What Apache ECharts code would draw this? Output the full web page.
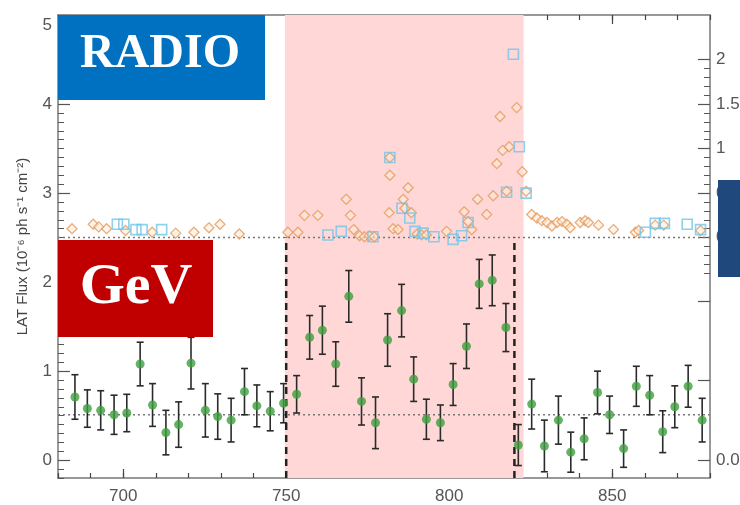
<!DOCTYPE html>
<html>
<head>
<meta charset="utf-8">
<script src="https://cdn.jsdelivr.net/npm/echarts@6/dist/echarts.min.js"></script>
<style>
html,body{margin:0;padding:0;background:#fff;}
#chart{width:740px;height:505px;}
</style>
</head>
<body>
<div id="chart"></div>
<script>
// ---------- data ----------
const xMin = 680, xMax = 880;
const xTickLabels = [700, 750, 800, 850];
const leftTickLabels = [0, 1, 2, 3, 4, 5];
const rightTickLabels = [0, 0.5, 1, 1.5, 2];
const rightLowLabelValue = -2.5;
const rightLowLabelText = '0.01';
const rightMajorTicks = [0, 0.5, 1, 1.5, 2, -0.72, -1.6, -2.5];
const rightMinorTicks = [-0.4, -0.3, -0.2, -0.1, 0.1, 0.2, 0.3, 0.4, 0.6, 0.7, 0.8, 0.9, 1.1, 1.2, 1.3, 1.4, 1.6, 1.7, 1.8, 1.9];

const flareStart = 749.6, flareEnd = 822.8;
const flareLines = [750, 820];
const gevBaseline = 0.51;
const radioBaseline = 0;

const gevDays = [685.2,689,693.1,697.2,701.1,705.2,709,713.1,717,720.8,725.2,729,733.1,737.2,741,745.1,749.2,753.2,757.2,761.1,765.2,769.2,773.1,777.4,781.1,785.4,789.1,793,797.3,801.2,805.3,809.2,813.2,817.4,821.2,825.3,829.2,833.5,837.3,841.4,845.5,849.2,853.5,857.4,861.5,865.5,869.2,873.3,877.6];
const gevFlux = [0.71,0.58,0.56,0.51,0.53,1.08,0.62,0.31,0.40,1.09,0.56,0.49,0.45,0.77,0.61,0.55,0.64,0.74,1.38,1.46,1.08,1.84,0.66,0.42,1.35,1.68,0.91,0.46,0.42,0.85,1.28,1.98,2.02,1.49,0.17,0.63,0.16,0.45,0.09,0.24,0.76,0.51,0.13,0.83,0.73,0.32,0.60,0.83,0.45];
const gevErr = [0.25,0.21,0.22,0.22,0.21,0.245,0.24,0.25,0.255,0.29,0.30,0.255,0.245,0.26,0.235,0.22,0.22,0.21,0.245,0.27,0.25,0.29,0.265,0.29,0.295,0.295,0.25,0.225,0.2,0.235,0.25,0.275,0.285,0.27,0.23,0.28,0.29,0.27,0.225,0.235,0.24,0.21,0.21,0.225,0.22,0.235,0.235,0.235,0.245];

const radioDiamondDays = [684.3,690.8,692.5,694.9,700.7,708.9,716.1,721.7,726.3,729.7,735.6,
  750.5,753.6,755.6,759.7,768.4,769.7,770.7,772.5,774,775.5,777,781.8,781.8,781.6,782.8,784.3,785.9,787.4,786.4,788.4,790.2,791.5,793,799.2,804.6,805.8,806.9,808.7,811.5,813.5,814.6,816.4,818.4,815.6,820.7,817.6,822.4,823.6,
  825.3,826.9,828.4,830,831.5,833.1,834.6,836.1,837.1,840.2,841.7,842.7,845.8,850.4,857.1,858.1,863.2,865.8,877.1];
const radioDiamondFlux = [0.10,0.15,0.12,0.10,0.08,0.06,0.05,0.06,0.11,0.15,0.04,
  0.06,0.06,0.25,0.25,0.43,0.25,0.09,0.02,0.01,0.02,0.01,0.70,0.90,0.28,0.10,0.09,0.43,0.56,0.33,0.28,0.04,0.03,0.03,0.07,0.29,0.18,0.09,0.43,0.26,0.47,0.83,0.98,1.02,1.36,1.46,0.52,0.74,0.52,
  0.26,0.22,0.19,0.17,0.13,0.17,0.18,0.15,0.11,0.17,0.19,0.17,0.14,0.09,0.06,0.08,0.14,0.14,0.08];

const radioSquareDays = [698.2,700.2,703.9,705.8,711.8,
  762.8,766.9,776.6,781.8,785.5,787.9,789.5,792,795.3,801.2,803.8,805.8,817.6,819.7,821.5,823.6,
  860.2,863.2,866,873,877.1];
const radioSquareFlux = [0.15,0.15,0.09,0.09,0.09,
  0.03,0.07,0.01,0.90,0.33,0.22,0.07,0.05,0.01,-0.02,0.02,0.17,0.51,2.06,1.02,0.50,
  0.06,0.16,0.16,0.15,0.09];

// ---------- chart ----------
const chart = echarts.init(document.getElementById('chart'), null, {renderer: 'canvas'});
const axisColor = '#777';
const labelColor = '#555';
const font = '"Liberation Sans", Arial, Helvetica, sans-serif';
const grid = {left: 58, top: 15, width: 652, height: 463, containLabel: false, outerBoundsMode: 'none'};

function xAx(position, showLine, showLabel, tickVals, tickLen, interval) {
  const ax = {
    type: 'value', position: position, min: xMin, max: xMax,
    axisLine: {show: showLine, onZero: false, lineStyle: {color: axisColor, width: 1.5}},
    splitLine: {show: false},
    axisTick: {show: true, inside: true, length: tickLen, lineStyle: {color: '#444', width: 1.2}},
    axisLabel: {show: showLabel, color: labelColor, fontSize: 17, fontFamily: font, margin: 10,
      customValues: xTickLabels, formatter: v => String(v)}
  };
  if (tickVals) ax.axisTick.customValues = tickVals;
  if (interval) ax.interval = interval;
  return ax;
}
const xAxes = [
  xAx('bottom', true, true, null, 5, 10),
  xAx('bottom', false, false, xTickLabels, 9, null),
  xAx('top', true, false, null, 5, 10),
  xAx('top', false, false, xTickLabels, 9, null)
];

const yAxes = [
  { // left, minor ticks + labels
    type: 'value', position: 'left', min: -0.2, max: 5, interval: 0.1,
    axisLine: {show: true, onZero: false, lineStyle: {color: axisColor, width: 1.5}},
    splitLine: {show: false},
    axisTick: {show: true, inside: true, length: 6, lineStyle: {color: '#555', width: 1}},
    axisLabel: {show: true, color: labelColor, fontSize: 17, fontFamily: font, margin: 6,
      customValues: leftTickLabels,
      formatter: v => (v === 5 ? '{top|5}' : String(v)),
      rich: {top: {fontSize: 17, color: labelColor, fontFamily: font, padding: [20, 0, 0, 0]}}},
    name: 'LAT Flux (10\u207B\u2076 ph s\u207B\u00B9 cm\u207B\u00B2)',
    nameLocation: 'middle', nameGap: 28,
    nameTextStyle: {color: '#444', fontSize: 15, fontFamily: font}
  },
  { // left major ticks
    type: 'value', position: 'left', min: -0.2, max: 5,
    axisLine: {show: false}, splitLine: {show: false},
    axisTick: {show: true, inside: true, length: 12, customValues: leftTickLabels, lineStyle: {color: '#555', width: 1.2}},
    axisLabel: {show: false}
  },
  { // right, radio scale: minor ticks + labels
    type: 'value', position: 'right', min: -2.7, max: 2.5,
    axisLine: {show: true, onZero: false, lineStyle: {color: axisColor, width: 1.5}},
    splitLine: {show: false},
    axisTick: {show: true, inside: true, length: 6, customValues: rightMinorTicks, lineStyle: {color: '#555', width: 1}},
    axisLabel: {show: true, color: labelColor, fontSize: 17, fontFamily: font, margin: 6,
      customValues: rightTickLabels.concat([rightLowLabelValue]),
      formatter: v => (Math.abs(v - rightLowLabelValue) < 1e-6 ? rightLowLabelText : String(v))}
  },
  { // right major ticks
    type: 'value', position: 'right', min: -2.7, max: 2.5,
    axisLine: {show: false}, splitLine: {show: false},
    axisTick: {show: true, inside: true, length: 12, customValues: rightMajorTicks, lineStyle: {color: '#555', width: 1.2}},
    axisLabel: {show: false}
  }
];

const series = [
  { // flare shading
    type: 'line', xAxisIndex: 0, yAxisIndex: 0, data: [], silent: true,
    markArea: {silent: true, itemStyle: {color: '#FFD7D7'}, data: [[{xAxis: flareStart}, {xAxis: flareEnd}]]},
    z: 1
  },
  { // radio baseline dotted
    type: 'line', xAxisIndex: 0, yAxisIndex: 2, symbol: 'none', silent: true,
    data: [[xMin, radioBaseline], [xMax, radioBaseline]],
    lineStyle: {color: '#777', width: 1.5, type: [2, 3]}, z: 2
  },
  { // gev baseline dotted
    type: 'line', xAxisIndex: 0, yAxisIndex: 0, symbol: 'none', silent: true,
    data: [[xMin, gevBaseline], [xMax, gevBaseline]],
    lineStyle: {color: '#777', width: 1.5, type: [2, 3]}, z: 2
  }
].concat(flareLines.map(d => ({
  type: 'line', xAxisIndex: 0, yAxisIndex: 0, symbol: 'none', silent: true,
  data: [[d, -0.2], [d, 2.5]],
  lineStyle: {color: '#222', width: 2.5, type: [7, 5]}, z: 3
}))).concat([
  { // radio diamonds
    type: 'scatter', xAxisIndex: 0, yAxisIndex: 2, symbol: 'diamond', symbolSize: [10, 10],
    data: radioDiamondDays.map((d, i) => [d, radioDiamondFlux[i]]),
    itemStyle: {color: 'rgba(255,236,215,0.7)', borderColor: '#E59A5C', borderWidth: 1.3}, z: 4
  },
  { // radio squares
    type: 'scatter', xAxisIndex: 0, yAxisIndex: 2, symbol: 'rect', symbolSize: [10, 10],
    data: radioSquareDays.map((d, i) => [d, radioSquareFlux[i]]),
    itemStyle: {color: 'rgba(0,0,0,0)', borderColor: '#72C6E8', borderWidth: 1.6}, z: 5
  },
  { // gev error bars
    type: 'custom', xAxisIndex: 0, yAxisIndex: 0, z: 6,
    data: gevDays.map((d, i) => [d, gevFlux[i], gevErr[i]]),
    renderItem: function (params, api) {
      const x = api.value(0), y = api.value(1), e = api.value(2);
      const t = api.coord([x, y + e]);
      const b = api.coord([x, y - e]);
      const st = {stroke: '#2a2a2a', lineWidth: 1.6};
      return {type: 'group', children: [
        {type: 'line', shape: {x1: t[0], y1: t[1], x2: b[0], y2: b[1]}, style: st},
        {type: 'line', shape: {x1: t[0] - 3.5, y1: t[1], x2: t[0] + 3.5, y2: t[1]}, style: st},
        {type: 'line', shape: {x1: b[0] - 3.5, y1: b[1], x2: b[0] + 3.5, y2: b[1]}, style: st}
      ]};
    }
  },
  { // gev points
    type: 'scatter', xAxisIndex: 0, yAxisIndex: 0, symbol: 'circle', symbolSize: 9,
    data: gevDays.map((d, i) => [d, gevFlux[i]]),
    itemStyle: {color: '#3E9E3E'}, z: 7
  }
]);

chart.setOption({
  animation: false,
  backgroundColor: '#fff',
  grid: grid,
  xAxis: xAxes,
  yAxis: yAxes,
  series: series,
  graphic: [
    {type: 'rect', z: 100, shape: {x: 58, y: 15, width: 207, height: 85}, style: {fill: '#0070C0'}},
    {type: 'text', z: 101, x: 160, y: 55, style: {text: 'RADIO', fill: '#fff', font: 'bold 48px "Liberation Serif", "Times New Roman", serif', textAlign: 'center', textVerticalAlign: 'middle'}},
    {type: 'rect', z: 100, shape: {x: 58, y: 240, width: 155, height: 97}, style: {fill: '#C00000'}},
    {type: 'text', z: 101, x: 136, y: 288, style: {text: 'GeV', fill: '#fff', font: 'bold 58px "Liberation Serif", "Times New Roman", serif', textAlign: 'center', textVerticalAlign: 'middle'}},
    {type: 'rect', z: 100, shape: {x: 718, y: 180, width: 22, height: 97}, style: {fill: '#1F497D'}}
  ]
});
</script>
</body>
</html>
